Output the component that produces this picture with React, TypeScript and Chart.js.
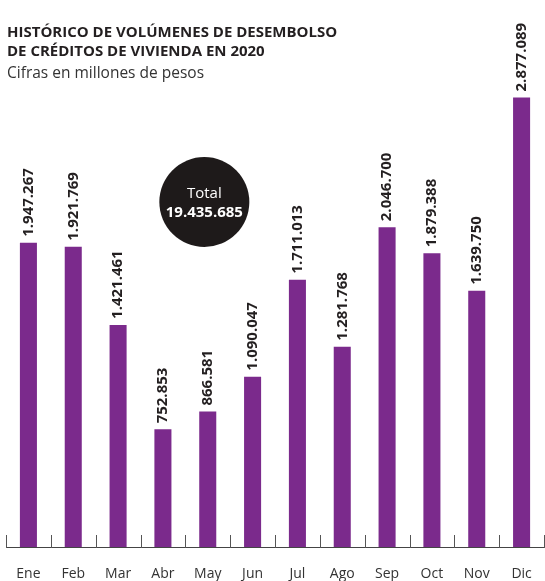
import React, { useEffect, useRef } from "react";
import { Chart, registerables } from "chart.js";

Chart.register(...registerables);

const months = ["Ene", "Feb", "Mar", "Abr", "May", "Jun", "Jul", "Ago", "Sep", "Oct", "Nov", "Dic"];
const values = [1947267, 1921769, 1421461, 752853, 866581, 1090047, 1711013, 1281768, 2046700, 1879388, 1639750, 2877089];
const valueLabels = ["1.947.267", "1.921.769", "1.421.461", "752.853", "866.581", "1.090.047", "1.711.013", "1.281.768", "2.046.700", "1.879.388", "1.639.750", "2.877.089"];
const titleLines = ["HISTÓRICO DE VOLÚMENES DE DESEMBOLSO", "DE CRÉDITOS DE VIVIENDA EN 2020"];
const subtitle = "Cifras en millones de pesos";
const totalLabel = "Total";
const totalValue = "19.435.685";

const FONT = "'Open Sans', 'Noto Sans', sans-serif";
const PURPLE = "#7b2a8c";
const INK = "#231f20";

const decorPlugin = {
  id: "decor",
  afterDatasetsDraw(chart: any) {
    const ctx = chart.ctx;
    const meta = chart.getDatasetMeta(0);
    const xs = chart.scales.x;
    const area = chart.chartArea;
    ctx.save();
    // value labels
    ctx.fillStyle = INK;
    ctx.font = `bold 15px ${FONT}`;
    ctx.textAlign = "left";
    ctx.textBaseline = "middle";
    meta.data.forEach((bar: any, i: number) => {
      ctx.save();
      ctx.translate(bar.x, bar.y - 6);
      ctx.rotate(-Math.PI / 2);
      ctx.fillText(valueLabels[i], 0, 0);
      ctx.restore();
    });
    // axis line
    ctx.strokeStyle = "#444";
    ctx.lineWidth = 1;
    ctx.beginPath();
    ctx.moveTo(area.left, area.bottom + 0.5);
    ctx.lineTo(area.right, area.bottom + 0.5);
    ctx.stroke();
    // tick marks between categories
    ctx.strokeStyle = "#555";
    const n = months.length;
    const w = xs.getPixelForValue(1) - xs.getPixelForValue(0);
    for (let i = 0; i <= n; i++) {
      const x = Math.round(xs.getPixelForValue(0) - w / 2 + i * w) + 0.5;
      ctx.beginPath();
      ctx.moveTo(x, area.bottom + 1);
      ctx.lineTo(x, area.bottom - 12);
      ctx.stroke();
    }
    // category labels
    ctx.fillStyle = "#333";
    ctx.font = `14px ${FONT}`;
    ctx.textAlign = "center";
    ctx.textBaseline = "alphabetic";
    months.forEach((m, i) => {
      ctx.fillText(m, xs.getPixelForValue(i), area.bottom + 31);
    });
    // total circle
    const cx = (xs.getPixelForValue(3) + xs.getPixelForValue(4)) / 2 + 19;
    const cy = area.top + 155;
    ctx.fillStyle = "#1e1a1a";
    ctx.beginPath();
    ctx.arc(cx, cy, 45, 0, Math.PI * 2);
    ctx.fill();
    ctx.fillStyle = "#ffffff";
    ctx.font = `15px ${FONT}`;
    ctx.fillText(totalLabel, cx, cy - 4);
    ctx.font = `bold 15px ${FONT}`;
    ctx.fillText(totalValue, cx, cy + 15);
    // titles
    ctx.textAlign = "left";
    ctx.fillStyle = INK;
    ctx.font = `bold 15px ${FONT}`;
    ctx.fillText(titleLines[0], 7, 37);
    ctx.fillText(titleLines[1], 7, 56);
    ctx.font = `15.5px ${FONT}`;
    ctx.fillStyle = "#333";
    ctx.fillText(subtitle, 7, 78);
    ctx.restore();
  },
};

export default function App() {
  const ref = useRef<HTMLCanvasElement>(null);
  useEffect(() => {
    const chart = new Chart(ref.current!, {
      type: "bar",
      data: {
        labels: months,
        datasets: [
          {
            data: values,
            backgroundColor: PURPLE,
            categoryPercentage: 1,
            barPercentage: 0.38,
          },
        ],
      },
      options: {
        animation: false,
        responsive: false,
        maintainAspectRatio: false,
        layout: { padding: { left: 6, right: 1, top: 47, bottom: 34 } },
        plugins: { legend: { display: false }, tooltip: { enabled: false }, title: { display: false } },
        scales: {
          y: { display: false, min: 0, max: 3200000 },
          x: { display: false },
        },
      },
      plugins: [decorPlugin],
    });
    return () => chart.destroy();
  }, []);
  return (
    <div style={{ position: "fixed", left: 0, top: 0, width: 545, height: 581, background: "#fff" }}>
      <canvas ref={ref} width={545} height={581} style={{ width: 545, height: 581, display: "block" }} />
    </div>
  );
}
